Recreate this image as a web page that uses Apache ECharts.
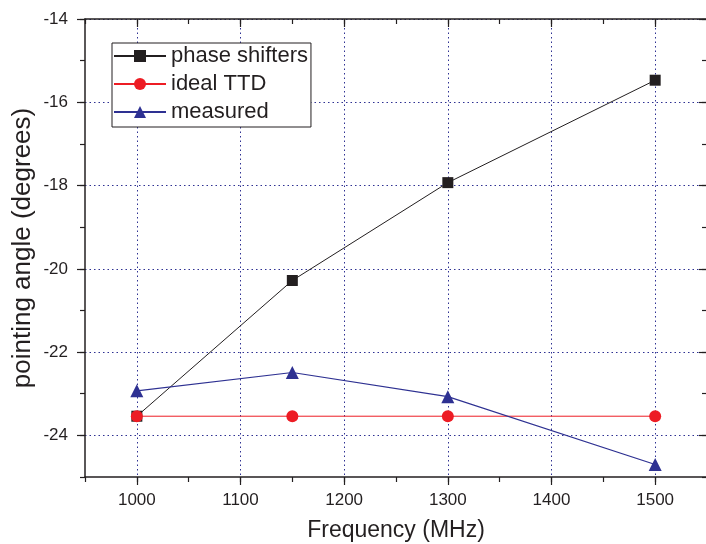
<!DOCTYPE html>
<html>
<head>
<meta charset="utf-8">
<script src="https://cdn.jsdelivr.net/npm/echarts@6/dist/echarts.min.js"></script>
<style>
  html, body { margin: 0; padding: 0; background: #fff; }
  #chart { width: 706px; height: 544px; }
</style>
</head>
<body>
<div id="chart"></div>
<script>
// data
var freq = [1000, 1150, 1300, 1500];
var phaseShifters = [-23.54, -20.28, -17.93, -15.47];
var idealTTD = [-23.54, -23.54, -23.54, -23.54];
var measured = [-22.93, -22.49, -23.07, -24.70];

var xTickLabels = [1000, 1100, 1200, 1300, 1400, 1500];
var yTickLabels = [-24, -22, -20, -18, -16, -14];

var ink = '#231f20';
var gridBlue = '#2e3192';
var font = '"Liberation Sans", Arial, sans-serif';

function pairs(ys) {
  return freq.map(function (f, i) { return [f, ys[i]]; });
}

// one axis of the frame; major ticks get their own overlay axis
function frameAxis(pos, min, max, step, opts) {
  var a = {
    type: 'value', position: pos, min: min, max: max, interval: step,
    axisLine: { show: true, onZero: false, lineStyle: { color: ink, width: 1.5 } },
    axisTick: { show: true, inside: opts.inside, length: 5, lineStyle: { color: ink, width: 1.2 } },
    axisLabel: { show: false },
    splitLine: { show: false }
  };
  if (opts.major) {
    a.axisLine = { show: false, onZero: false };
    a.axisTick = { show: true, inside: opts.inside, length: 8, customValues: opts.major,
                   lineStyle: { color: ink, width: 1.2 } };
  }
  return a;
}

var xMain = frameAxis('bottom', 950, 1550, 50, { inside: false });
xMain.axisLabel = {
  show: true, fontSize: 17, color: ink, fontFamily: font, margin: 15,
  formatter: function (v) { return xTickLabels.indexOf(v) >= 0 ? String(v) : ''; }
};
xMain.splitLine = { show: true, lineStyle: { color: ['transparent', gridBlue], type: [1.5, 3], width: 1 } };
xMain.name = 'Frequency (MHz)';
xMain.nameLocation = 'middle';
xMain.nameGap = 42;
xMain.nameTextStyle = { fontSize: 23, color: ink, fontFamily: font };

var yMain = frameAxis('left', -25, -14, 1, { inside: false });
yMain.axisLabel = {
  show: true, fontSize: 17, color: ink, fontFamily: font, margin: 17,
  formatter: function (v) { return yTickLabels.indexOf(v) >= 0 ? String(v) : ''; }
};
yMain.splitLine = { show: true, lineStyle: { color: ['transparent', gridBlue], type: [1.5, 3], width: 1 } };
yMain.name = 'pointing angle (degrees)';
yMain.nameLocation = 'middle';
yMain.nameGap = 49;
yMain.nameMoveOverlap = false;
yMain.nameTextStyle = { fontSize: 26, color: ink, fontFamily: font };

var chart = echarts.init(document.getElementById('chart'));
chart.setOption({
  animation: false,
  backgroundColor: '#fff',
  grid: { left: 85, right: -1, top: 19, bottom: 67, containLabel: false, outerBoundsMode: 'none' },
  legend: {
    left: 112, top: 43, orient: 'vertical',
    data: ['phase shifters', 'ideal TTD', 'measured'],
    itemWidth: 52, itemHeight: 15, itemGap: 6,
    padding: [2, 3, 4, 1],
    borderColor: ink, borderWidth: 1, backgroundColor: '#fff',
    textStyle: { fontSize: 22, color: ink, fontFamily: font, lineHeight: 20 }
  },
  xAxis: [
    xMain,
    frameAxis('bottom', 950, 1550, 50, { inside: false, major: xTickLabels }),
    frameAxis('top', 950, 1550, 50, { inside: true }),
    frameAxis('top', 950, 1550, 50, { inside: true, major: xTickLabels })
  ],
  yAxis: [
    yMain,
    frameAxis('left', -25, -14, 1, { inside: false, major: yTickLabels }),
    frameAxis('right', -25, -14, 1, { inside: true }),
    frameAxis('right', -25, -14, 1, { inside: true, major: yTickLabels })
  ],
  series: [
    {
      name: 'phase shifters', type: 'line', data: pairs(phaseShifters),
      symbol: 'rect', symbolSize: 11,
      lineStyle: { color: ink, width: 1 }, itemStyle: { color: ink }
    },
    {
      name: 'ideal TTD', type: 'line', data: pairs(idealTTD),
      symbol: 'circle', symbolSize: 12,
      lineStyle: { color: '#ed1c24', width: 1 }, itemStyle: { color: '#ed1c24' }
    },
    {
      name: 'measured', type: 'line', data: pairs(measured),
      symbol: 'triangle', symbolSize: 13,
      lineStyle: { color: gridBlue, width: 1.2 }, itemStyle: { color: gridBlue }
    }
  ]
});
</script>
</body>
</html>
